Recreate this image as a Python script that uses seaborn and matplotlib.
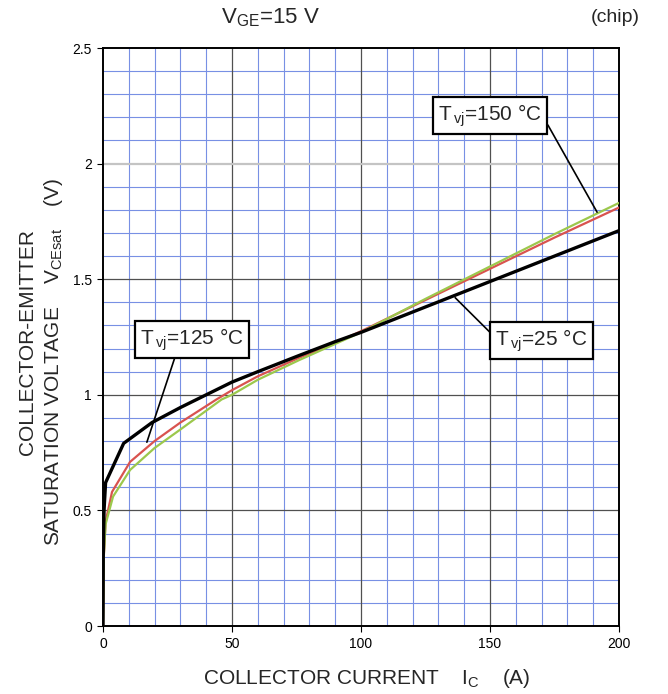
import matplotlib
matplotlib.use('Agg')
import matplotlib.pyplot as plt
import seaborn as sns
import numpy as np

# collector current (A) / saturation voltage (V)
ic_25 = [0, 0.1, 0.4, 1, 8, 19, 30, 40, 50, 60, 76, 90, 100, 125, 150, 175, 200]
vce_25 = [0, 0.30, 0.50, 0.62, 0.79, 0.88, 0.945, 1.0, 1.055, 1.10, 1.17, 1.23, 1.27, 1.38, 1.49, 1.60, 1.71]

ic_125 = [0, 0.3, 1, 3.5, 10.5, 20, 30, 44, 50, 60, 76, 90, 100, 125, 150, 175, 200]
vce_125 = [0, 0.30, 0.45, 0.58, 0.71, 0.80, 0.88, 0.98, 1.02, 1.08, 1.16, 1.225, 1.275, 1.41, 1.545, 1.68, 1.81]

ic_150 = [0, 0.3, 1, 3.9, 10.5, 20, 30, 46, 50, 60, 76, 90, 100, 125, 150, 175, 200]
vce_150 = [0, 0.30, 0.44, 0.56, 0.675, 0.77, 0.85, 0.98, 1.0, 1.065, 1.15, 1.22, 1.27, 1.415, 1.555, 1.695, 1.83]

x_ticks = [0, 50, 100, 150, 200]
y_ticks = [0, 0.5, 1, 1.5, 2, 2.5]
y_tick_labels = ['0', '0.5', '1', '1.5', '2', '2.5']

sns.set_style('white')
plt.rcParams['font.family'] = ['Liberation Sans', 'DejaVu Sans']
plt.rcParams['mathtext.fontset'] = 'custom'
plt.rcParams['mathtext.rm'] = 'Liberation Sans'

fig = plt.figure(figsize=(6.68, 6.94), dpi=100)
ax = fig.add_axes([103 / 668, 1 - 626 / 694, (619 - 103) / 668, (626 - 48) / 694])

# grid: blue minor every 10 A / 0.1 V, gray major every 50 A / 0.5 V
for x in np.arange(10, 200, 10):
    if x % 50:
        ax.axvline(x, color='#7890e4', lw=0.8, zorder=0)
for y in np.arange(0.1, 2.5, 0.1):
    if abs(y * 10 % 5) > 0.01 and abs(y * 10 % 5 - 5) > 0.01:
        ax.axhline(y, color='#7890e4', lw=0.8, zorder=0)
for x in [50, 100, 150]:
    ax.axvline(x, color='#505050', lw=0.9, zorder=0)
for y in [0.5, 1, 1.5]:
    ax.axhline(y, color='#505050', lw=0.9, zorder=0)
ax.axhline(2, color='#c4c4c4', lw=1.6, zorder=0)

sns.lineplot(x=ic_125, y=vce_125, ax=ax, color='#d9534f', lw=1.6, estimator=None, sort=False, zorder=3)
sns.lineplot(x=ic_150, y=vce_150, ax=ax, color='#9cc84c', lw=1.6, estimator=None, sort=False, zorder=3)
sns.lineplot(x=ic_25, y=vce_25, ax=ax, color='black', lw=2.4, estimator=None, sort=False, zorder=4)

ax.set_xlim(0, 200)
ax.set_ylim(0, 2.5)
ax.set_xticks(x_ticks)
ax.set_xticklabels([str(t) for t in x_ticks])
ax.set_yticks(y_ticks)
ax.set_yticklabels(y_tick_labels)
ax.tick_params(axis='both', labelsize=10, length=4, width=0.8, direction='out',
               bottom=True, left=True, colors='black', pad=4)
for s in ax.spines.values():
    s.set_color('black')
    s.set_linewidth(1.4)
ax.set_xlabel('')
ax.set_ylabel('')

box = dict(boxstyle='square,pad=0.25', fc='white', ec='black', lw=1.6)
ax.annotate('T$_{\\,\\mathregular{vj}}$=125 °C', xy=(17, 0.795), xytext=(34.5, 1.24),
            ha='center', va='center', fontsize=15, bbox=box, zorder=6,
            arrowprops=dict(arrowstyle='-', color='black', lw=1.2, shrinkA=0, shrinkB=0,
                            relpos=(0.35, 0.0)))
ax.annotate('T$_{\\,\\mathregular{vj}}$=150 °C', xy=(191.5, 1.79), xytext=(150, 2.207),
            ha='center', va='center', fontsize=15, bbox=box, zorder=6,
            arrowprops=dict(arrowstyle='-', color='black', lw=1.2, shrinkA=0, shrinkB=0,
                            relpos=(1.0, 0.55)))
ax.annotate('T$_{\\,\\mathregular{vj}}$=25 °C', xy=(136.5, 1.42), xytext=(170, 1.235),
            ha='center', va='center', fontsize=15, bbox=box, zorder=6,
            arrowprops=dict(arrowstyle='-', color='black', lw=1.2, shrinkA=0, shrinkB=0,
                            relpos=(0.0, 0.6)))

fig.text(270 / 668, 1 - 18 / 694, 'V$_{\\mathregular{GE}}$=15 V', ha='center', va='center', fontsize=16)
fig.text(615 / 668, 1 - 18 / 694, '(chip)', ha='center', va='center', fontsize=14)

fig.text(367 / 668, 1 - 679 / 694, 'COLLECTOR CURRENT    I$_{\\mathregular{C}}$    (A)',
         ha='center', va='center', fontsize=15)
fig.text(28 / 668, 1 - 342 / 694, 'COLLECTOR-EMITTER', rotation=90,
         ha='center', va='center', fontsize=15)
fig.text(54 / 668, 1 - 362 / 694, 'SATURATION VOLTAGE    V$_{\\mathregular{CEsat}}$    (V)',
         rotation=90, ha='center', va='center', fontsize=15)

fig.savefig('out.png', dpi=100)
